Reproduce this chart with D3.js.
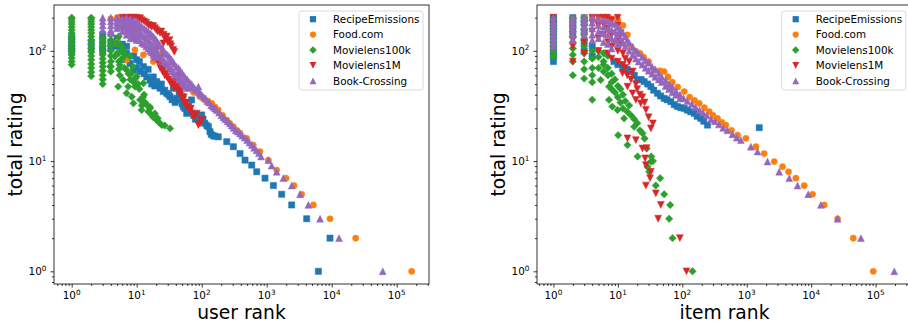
<!DOCTYPE html>
<html><head><meta charset="utf-8">
<script src="https://cdn.jsdelivr.net/npm/d3@7"></script>
<style>
body{margin:0;background:#fff;}
text{font-family:"DejaVu Sans",sans-serif;fill:#000;}
</style></head>
<body><svg id="c" width="908" height="326"></svg>
<script>
const seriesNames = ["RecipeEmissions","Food.com","Movielens100k","Movielens1M","Book-Crossing"];
const seriesColors = ["#1f77b4","#ff7f0e","#2ca02c","#d62728","#9467bd"];
const seriesMarkers = ["square","circle","diamond","tridown","triup"];
const tickExponents = [0,1,2,3,4,5];
const yTickExponents = [0,1,2];
const axisLabels = {user:"user rank", item:"item rank", y:"total rating"};

// ---------- user rank panel ----------
const userRecipe = [[1,135],[1,125],[1,115],[1,105],[1,98],[2,120],[2,105],[3,140],[3,125],[3,110],[3,100],
[4,120],[4,105],[5,130],[5,110],[6,115],[6,100],[7,110],[7,95],[6.2,83],[7.9,77],[8.9,67],[10,83],[11.3,65],[12.7,72],
[9,90],[10,70],[11,80],[13,62],[15,68],[14.3,58],[16,54.5],[17,50],[18,58],[19,48],[20.3,52.6],[22.9,45.8],[24,50],[25.7,42.7],[27,44],
[29,41.2],[31,40],[32.6,38.4],[35,36],[36.6,45.8],[39,34],[41.2,37.1],[45,40],[46.4,35.9],[50,33],[52.2,31.2],[55,30],[58.8,27.1],[62,29],
[66,28],[70,35.9],[75,26],[80,24],[84,25.3],[94,22.8],[100,26.2],[105,24],[112,22],[120,21],[127,20.5],[134,18.5],[140,17.5],[150,17],[160,16.8],
[180,16.6],[243,15],[307,13.5],[389,11.7],[464,10.2],[588,9.2],[702,8],[942,7],[1267,6],[1702,5],[2425,4],[4123,3],[9420,2],[6237,1]];
const userFood = [[4,195],[5,200],[6,190],[8,150],[10,175],[5,120],[4.9,117],[7,83],[9.4,102],[12.7,92],[14,130],[18,80],[20,110],[25,95],[30,75],
[36.6,52.6],[45,50],[55,48],[66,45.8],[75,42],[94,38.4],[110,36],[125,35],[143,33.4],[160,31],[180,29.1],[210,26],[243,23.6],[270,22],[307,20.5],
[350,19],[389,17.9],[492,16.1],[623,14],[789,12.2],[1061,10.2],[1425,8.3],[1983,7],[2636,6],[3454,5],[5224,4],[9420,3],[23400,2],[170000,1]];
const userML100k = [[1,200],[1,195],[1,185],[1,175],[1,165],[1,155],[1,145],[1,135],[1,128],[1,120],[1,112],[1,105],[1,98],[1,92],[1,86],[1,80],[1,75],
[2,200],[2,195],[2,185],[2,175],[2,165],[2,155],[2,145],[2,135],[2,125],[2,115],[2,105],[2,97],[2,90],[2,83],[2,76],[2,70],[2,64],[2,59],
[3,130],[3,120],[3,110],[3,100],[3,92],[3,85],[3,78],[3,72],[3,66],[3,60],[3,55],[3,50],
[4,140],[4,125],[4,112],[4,100],[4,90],[4,80],[4,72],[4,65],[5.3,135],[5.3,115],[5.3,95],[5.3,80],[5.3,68],
[4.6,88.8],[4.9,117],[5.5,74.6],[6.2,102],[7.9,88.8],[3.9,72],[7,67.2],[8.4,62.7],[10,58.4],[12.7,50.8],[5.2,47.4],[6.2,54.5],[7.4,47.4],
[9.4,47.4],[7,41.2],[8.4,38.4],[8.9,33.4],[11.3,35.9],[11.9,29.1],[14.3,32.3],[15.1,28.1],[17,26.2],[20.3,23.6],[24.3,21.2],[32.6,19.8],
[5,95],[6,85],[5.5,60],[6.5,70],[8,55],[9,52],[11,45],[13,40],[12,32],[16,30],[18,25],[22,22.5],
[5.8,110],[6.6,92],[7.5,62],[8.7,72],[9.5,56],[10.5,50],[12.5,38],[13.5,34],[16,31],[19,27],[21,24.5],[27,21]];
const userML1M = [[6,200],[7,200],[7.9,200],[8.5,197],[9,200],[10,200],[11,195],[11.3,198],[12,190],[13,185],[14,180],[15.1,172],[16,170],
[17,165],[18,168],[19.1,161],[20,155],[21,150],[22.9,145],[24,150],[25.7,117],[26,140],[27,130],[29,135],[30,120],[32,125],[33,115],
[36.6,102],[34,110],[38,98],[20.3,102],[22.9,86],[18,95],[16,100],[17,92],[19,88],[21,80],[23,70],[24,75],[25,65],[26,68],[27,60],[28,62],
[29,58],[31,55],[32.6,52.6],[34,50],[36,50],[38,46],[40,55],[45,60],[41.2,47.4],[43,44],[45,42],[47,40],[50,45],[49,38.4],[52,36],[53,38],
[55,33.4],[58,34],[60,31],[63,31],[66,29.1],[68,30],[70,27],[74.5,25.3],[78,26],[84,27],[89,21.2],[95,22],[100,23.6]];
const userBook = [[3,200],[3,185],[3,170],[3,155],[4,200],[4,185],[4,170],[4,155],[4,145],[5,200],[5,190],[5,180],[5,170],[5,160],
[6,195],[6,185],[6,175],[6,165],[6,150],[7,200],[7,190],[7,180],[7,170],[7,160],[7,150],[7,140],[8,195],[8,185],[8,170],[8,160],[8,150],
[8,140],[8,130],[9,190],[9,180],[9,165],[9,155],[9,140],[9,130],[10,185],[10,175],[10,160],[10,150],[10,135],[10,125],[11,175],[11,165],
[11,150],[11,140],[11,125],[12,165],[12,140],[12,118],[13,160],[13,135],[13,115],[14,155],[14,130],[14,110],[15,150],[15,125],[15,105],
[16,145],[16,120],[16,100],[17,140],[17,115],[17,97],[18,135],[18,110],[18,92],[19,130],[19,105],[19,88],[20,125],[20,100],[21,120],[21,95],
[22,115],[22,90],[23,110],[23,88],[25,105],[25,85],[26,100],[26,80],[28,95],[28,78],[30,92],[30,75],[32,88],[32,72],[34,84],[34,68],
[36,80],[36,65],[38,76],[38,62],[41,72],[41,60],[44,70],[44,57],[46.4,67],[47,55],[50,63],[50,52],[53,60],[53,50],[56,57],[56,48],[60,55],
[60,46],[65,52],[65,47],[70,50],[75,47],[80,45],[85,44],[89,47.4],[90,42],[95,41],[100,40],[108,38],[115,37],[122,35],[130,34],[140,32],
[150,31],[160,30],[170,29],[185,27.5],[200,26],[215,25],[230,24],[250,23],[270,22],[290,21],[310,20],[335,19],[360,18.5],[390,17.8],
[420,17],[460,16.3],[500,15.5],[545,14.7],[590,14],[640,13.2],[700,12.5],[760,11.8],[820,11],[1061,10.2],[1194,9.1],[1425,8],[1804,7],
[2425,6],[3258,5],[4375,4],[6620,3],[12970,2],[61000,1]];

// ---------- item rank panel ----------
const itemRecipe = [[1,200],[1,185],[1,170],[1,155],[1,140],[1,125],[1,112],[1,100],[1,90],[1,80],[2,200],[2,180],[2,160],[2,140],
[3,200],[3,180],[3,150],[3,120],[3,100],[4,90],[4,110],[8.7,80],[10,75],[12,70],[14,68],[15.9,65],[18,60],[20.2,54.5],[23,55],[25.6,52.6],
[29,50],[32.5,47.4],[36,44],[41.2,41.2],[46,39],[52.3,37.1],[58,36],[66.4,34.6],[75,32.5],[84,31.2],[95,30.5],[107,30.1],[120,29],[135,28],
[153,27.1],[170,25.5],[194,24.4],[215,23],[246,21.2],[1563,20.1]];
const itemFood = [[3,200],[4,200],[5,190],[6,200],[8,195],[10,190],[12,170],[14.1,140],[16,110],[19,99],[22,95],[25,88],[30,80],[36.6,67],
[45,66],[52.3,65],[60,58],[70,52],[85,47],[107,42.7],[130,38],[155,35.5],[183,33.4],[220,30.5],[261,28.1],[300,26],[352,24.4],[410,22.5],
[474,21.2],[580,19],[719,17.2],[970,16.1],[1386,13.5],[1866,11.7],[2672,9.9],[3597,8.9],[4458,8],[5795,7],[7800,6],[10510,5],[15960,4],
[25700,3],[45000,2],[92000,1]];
const itemML100k = [[1,200],[1,190],[1,180],[1,170],[1,160],[1,150],[1,140],[1,130],[1,120],[1,110],[1,100],[1,92],[1,88],
[2,200],[2,195],[2,180],[2,165],[2,150],[2,135],[2,120],[2,105],[2,92],[2,80],[2,60],
[3,200],[3,185],[3,170],[3,155],[3,140],[3,125],[3,110],[3,95],[3,80],[3,68],[3,56],
[4,100],[4,85],[4,70],[4,60],[4,52],[4,36],[5.4,54.5],[5,70],[5,100],[5,88],[6,95],[6,80],[6,75],[6,65],[7,90],[7,70],[7,60],[7.3,47.4],
[7.3,35.9],[8,62],[8,52],[8,45],[8.2,31.2],[9,55],[9,42],[9.9,29.1],[10,48],[10,38],[10.1,17.2],[11,45],[11,34],[12,40],[12,30],[12.5,24.4],
[13,35],[14,28],[14.1,14],[15,32],[16,26],[17.9,20.5],[18,24],[20,22],[20.2,11],[22,19],[24.1,17.9],[26,16],[28,13],[28.8,8.9],[30.6,8],
[32.5,9.9],[33,11],[35,10],[38.8,6],[45.3,7],[52.3,5],[64.8,4],[62.5,3],[70.5,2],[144,1]];
const itemML1M = [[1,200],[1,175],[2,125],[2,110],[2,80],[3,120],[3,95],[4,200],[4,180],[4,150],[5,200],[5,170],[5,130],[5,100],
[6,200],[6,175],[6,140],[6.9,200],[7,160],[7,120],[7,95],[8,190],[8,140],[8,110],[8,85],[8.7,117],[9.9,200],[10,170],[10,130],[10,100],[10,80],
[11.1,145],[11,120],[12,95],[11.8,62.7],[12,75],[13,85],[13,70],[14.1,47.4],[14,60],[15,80],[16,55],[16.9,41.2],[17,65],[19,35.9],[19,50],
[20,45],[22.7,33.4],[22,40],[24,38],[27.2,29.1],[26,34],[30,25],[32.5,19.8],[35,22],[14.1,16.1],[19,15.5],[24.1,13],[28,13.1],[26.5,10.6],
[27.2,9.2],[32.5,8],[31.6,7],[27.2,6],[38.8,5.1],[46.4,4],[42.2,3],[91.6,2],[116,1]];
const itemBook = [[1,200],[1,185],[1,170],[1,155],[1,140],[1,130],[1,120],[1,110],[2,200],[2,185],[2,170],[2,155],[2,140],[2,125],
[3,200],[3,185],[3,170],[3,155],[3,140],[4,200],[4,180],[4,160],[4,140],[4,125],[5,195],[5,170],[5,150],[5,130],[6,190],[6,165],[6,145],[6,120],
[7,185],[7,160],[7,140],[7,115],[8,180],[8,155],[8,130],[8,105],[9,175],[9,150],[9,125],[10,165],[10,140],[10,115],[11,155],[11,130],
[12,145],[12,118],[13,135],[13,110],[14,125],[15,118],[15,100],[17,108],[17,92],[19,100],[19,85],[21,95],[21,80],[24,88],[24,75],[27,82],
[27,70],[30,78],[30,66],[34,72],[34,62],[38,68],[38,58],[43,63],[43,55],[48,58],[48,52],[55,54],[55,48],[62,50],[62,45],[70,47],[70,42],
[80,43],[80,40],[92,40],[92,37],[105,37],[120,35],[140,33],[160,31],[185,29],[210,27.5],[240,26],[280,24],[320,23],[370,21.5],[430,20],
[500,19],[600,17.5],[700,16.3],[811,15.5],[1158,13.5],[1471,12.2],[2104,9.9],[3190,8],[4570,7],[6150,6],[9000,5],[14160,4],[25700,3],
[59200,2],[195000,1]];

const panels = [
  {xlabel:axisLabels.user, series:[userRecipe,userFood,userML100k,userML1M,userBook],
   left:54, right:429, xlog:[-0.272,5.497], legendX:299},
  {xlabel:axisLabels.item, series:[itemRecipe,itemFood,itemML100k,itemML1M,itemBook],
   left:537, right:912, xlog:[-0.255,5.565], legendX:781.7}
];
const plotTop=5, plotBottom=284;
const ylog=[-0.115,2.416];

const svg = d3.select("#c");

function markerPath(type, r){
  const p = d3.path();
  if(type==="square"){ p.rect(-r,-r,2*r,2*r); }
  else if(type==="circle"){ p.arc(0,0,r,0,2*Math.PI); }
  else if(type==="diamond"){ const d=r*1.2; p.moveTo(0,-d);p.lineTo(d,0);p.lineTo(0,d);p.lineTo(-d,0);p.closePath(); }
  else if(type==="triup"){ const d=r*1.1; p.moveTo(0,-d);p.lineTo(d,d);p.lineTo(-d,d);p.closePath(); }
  else if(type==="tridown"){ const d=r*1.1; p.moveTo(0,d);p.lineTo(d,-d);p.lineTo(-d,-d);p.closePath(); }
  return p.toString();
}
const markerR = 3.1;

function minorTicks(lo, hi){
  const out=[];
  for(let e=Math.floor(Math.log10(lo))-1;e<=Math.ceil(Math.log10(hi));e++){
    for(let m=2;m<=9;m++){const v=m*Math.pow(10,e); if(v>=lo&&v<=hi) out.push(v);}
  }
  return out;
}

panels.forEach(P=>{
  const x = d3.scaleLog().domain([Math.pow(10,P.xlog[0]),Math.pow(10,P.xlog[1])]).range([P.left,P.right]);
  const y = d3.scaleLog().domain([Math.pow(10,ylog[0]),Math.pow(10,ylog[1])]).range([plotBottom,plotTop]);
  const g = svg.append("g");

  P.series.forEach((data,i)=>{
    g.append("g").selectAll("path").data(data).join("path")
      .attr("d",markerPath(seriesMarkers[i],markerR))
      .attr("transform",d=>`translate(${x(d[0])},${y(d[1])})`)
      .attr("fill",seriesColors[i])
      .attr("stroke",seriesColors[i]).attr("stroke-opacity",0.55).attr("stroke-width",0.9);
  });

  g.append("rect").attr("x",P.left).attr("y",plotTop).attr("width",P.right-P.left).attr("height",plotBottom-plotTop)
    .attr("fill","none").attr("stroke","#000").attr("stroke-width",0.8);

  const majorX = tickExponents.map(e=>Math.pow(10,e));
  const xAxis = d3.axisBottom(x).tickValues(majorX).tickSize(3.5).tickFormat("");
  const xg = g.append("g").attr("transform",`translate(0,${plotBottom})`).call(xAxis);
  const xmin = d3.axisBottom(x).tickValues(minorTicks(x.domain()[0],x.domain()[1])).tickSize(2).tickFormat("");
  const xg2 = g.append("g").attr("transform",`translate(0,${plotBottom})`).call(xmin);
  [xg,xg2].forEach(a=>{a.select(".domain").remove(); a.selectAll("line").attr("stroke","#000").attr("stroke-width",0.8);});
  tickExponents.forEach(e=>{
    const t = g.append("text").attr("x",x(Math.pow(10,e))).attr("y",299).attr("text-anchor","middle").attr("font-size",10.4);
    t.append("tspan").text("10");
    t.append("tspan").attr("dy",-4.5).attr("font-size",7.3).text(String(e));
  });

  const majorY = yTickExponents.map(e=>Math.pow(10,e));
  const yAxis = d3.axisLeft(y).tickValues(majorY).tickSize(3.5).tickFormat("");
  const yg = g.append("g").attr("transform",`translate(${P.left},0)`).call(yAxis);
  const ymin = d3.axisLeft(y).tickValues(minorTicks(y.domain()[0],y.domain()[1])).tickSize(2).tickFormat("");
  const yg2 = g.append("g").attr("transform",`translate(${P.left},0)`).call(ymin);
  [yg,yg2].forEach(a=>{a.select(".domain").remove(); a.selectAll("line").attr("stroke","#000").attr("stroke-width",0.8);});
  yTickExponents.forEach(e=>{
    const t = g.append("text").attr("x",P.left-7.5).attr("y",y(Math.pow(10,e))+4).attr("text-anchor","end").attr("font-size",10.4);
    t.append("tspan").text("10");
    t.append("tspan").attr("dy",-4.5).attr("font-size",7.3).text(String(e));
  });

  g.append("text").attr("x",(P.left+P.right)/2).attr("y",319).attr("text-anchor","middle")
    .attr("font-size",18.7).text(P.xlabel);
  g.append("text").attr("transform",`translate(${P.left-32.5},${(plotTop+plotBottom)/2}) rotate(-90)`)
    .attr("text-anchor","middle").attr("font-size",18.7).text(axisLabels.y);

  const lg = g.append("g");
  lg.append("rect").attr("x",P.legendX).attr("y",11).attr("width",124).attr("height",79).attr("rx",2.5)
    .attr("fill","#fff").attr("fill-opacity",0.8).attr("stroke","#d0d0d0").attr("stroke-width",0.8);
  seriesNames.forEach((n,i)=>{
    const cy = 19.2 + i*15.4;
    lg.append("path").attr("d",markerPath(seriesMarkers[i],markerR))
      .attr("transform",`translate(${P.legendX+14},${cy})`).attr("fill",seriesColors[i]);
    lg.append("text").attr("x",P.legendX+34).attr("y",cy+3.8).attr("font-size",10.4).text(n);
  });
});
</script></body></html>
